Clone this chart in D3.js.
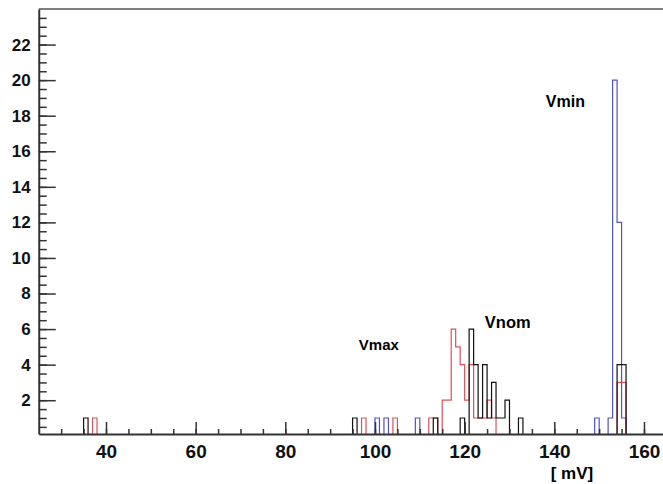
<!DOCTYPE html>
<html>
<head>
<meta charset="utf-8">
<script src="https://cdn.jsdelivr.net/npm/d3@7"></script>
<style>
  body { margin: 0; background: #fff; }
  svg { display: block; font-family: "Liberation Sans", Arial, sans-serif; font-weight: bold; }
  .axis path, .axis line { stroke: #333; }
  .axis text { fill: #111; font-weight: bold; }
</style>
</head>
<body>
<div id="chart"></div>
<script>
// bin lower edges (1 mV wide) and entries per histogram
const vminBins   = [100, 102, 109, 149, 152, 153, 154, 155];
const vminCounts = [1, 1, 1, 1, 1, 20, 12, 1];

const vmaxBins   = [37, 97, 104, 112, 113, 115, 116, 117, 118, 119, 120, 121, 122, 123, 124, 125, 126, 154, 155];
const vmaxCounts = [1, 1, 1, 1, 1, 2, 2, 6, 5, 4, 2, 4, 1, 1, 1, 2, 1, 3, 3];

const vnomBins   = [35, 95, 113, 119, 121, 122, 123, 124, 125, 126, 127, 128, 129, 132, 154, 155];
const vnomCounts = [1, 1, 1, 1, 6, 4, 1, 4, 1, 3, 1, 1, 2, 1, 4, 4];

const xTicks = [40, 60, 80, 100, 120, 140, 160];
const yTicks = [2, 4, 6, 8, 10, 12, 14, 16, 18, 20, 22];

const width = 663, height = 484;

const x = d3.scaleLinear().domain([25, 165]).range([38.75, 666.4]);
const y = d3.scaleLinear().domain([0.1, 24]).range([434, 9]);

const svg = d3.select('#chart')
  .append('svg')
  .attr('width', width)
  .attr('height', height);

svg.append('defs').append('clipPath')
  .attr('id', 'frame')
  .append('rect')
  .attr('x', x(25)).attr('y', y(24))
  .attr('width', x(165) - x(25)).attr('height', y(0.1) - y(24));

// top edge of the frame
svg.append('line')
  .attr('x1', x(25)).attr('x2', x(165))
  .attr('y1', y(24)).attr('y2', y(24))
  .attr('stroke', '#555').attr('stroke-width', 1.5);

// step outline for one histogram
function hist(bins, counts, color) {
  const byBin = new Map(bins.map((b, i) => [b, counts[i]]));
  const pts = d3.range(25, 165).map(b => [b, byBin.get(b) || 0]);
  pts.push([165, 0]);
  const line = d3.line()
    .x(d => x(d[0]))
    .y(d => y(d[1]))
    .curve(d3.curveStepAfter);
  svg.append('path')
    .attr('clip-path', 'url(#frame)')
    .attr('d', line(pts))
    .attr('fill', 'none')
    .attr('stroke', color)
    .attr('stroke-width', 1.2);
}

hist(vminBins, vminCounts, '#5050c8');
hist(vmaxBins, vmaxCounts, '#e0505a');
hist(vnomBins, vnomCounts, '#111');

// x axis
svg.append('g')
  .attr('class', 'axis')
  .attr('transform', `translate(0,${y(0.1)})`)
  .call(d3.axisBottom(x).tickValues(d3.range(30, 166, 5)).tickSize(-5).tickSizeOuter(0).tickFormat(''))
  .call(g => g.select('.domain').attr('stroke-width', 2))
  .selectAll('line').attr('stroke-width', 1.5);

svg.append('g')
  .attr('class', 'axis')
  .attr('transform', `translate(0,${y(0.1)})`)
  .call(d3.axisBottom(x).tickValues(xTicks).tickSize(-12).tickSizeOuter(0).tickPadding(11))
  .call(g => g.select('.domain').remove())
  .call(g => g.selectAll('line').attr('stroke-width', 1.5))
  .selectAll('text').attr('font-size', 19);

// y axis
svg.append('g')
  .attr('class', 'axis')
  .attr('transform', `translate(${x(25)},0)`)
  .call(d3.axisLeft(y).tickValues(d3.range(0.5, 24, 0.5)).tickSize(-8).tickSizeOuter(0).tickFormat(''))
  .call(g => g.select('.domain').attr('stroke-width', 2))
  .selectAll('line').attr('stroke-width', 1.5);

svg.append('g')
  .attr('class', 'axis')
  .attr('transform', `translate(${x(25)},0)`)
  .call(d3.axisLeft(y).tickValues(yTicks).tickSize(-17).tickSizeOuter(0).tickPadding(8))
  .call(g => g.select('.domain').remove())
  .call(g => g.selectAll('line').attr('stroke-width', 1.5))
  .selectAll('text').attr('font-size', 17);

// labels
svg.append('text')
  .attr('x', x(139.2)).attr('y', 479)
  .attr('font-size', 17)
  .text('[ mV]');

svg.append('text')
  .attr('x', x(138.1)).attr('y', y(18.5))
  .attr('font-size', 16)
  .text('Vmin');

svg.append('text')
  .attr('x', x(124.5)).attr('y', y(6.05))
  .attr('font-size', 16.5)
  .text('Vnom');

svg.append('text')
  .attr('x', x(96.4)).attr('y', y(4.8))
  .attr('font-size', 15)
  .text('Vmax');
</script>
</body>
</html>
